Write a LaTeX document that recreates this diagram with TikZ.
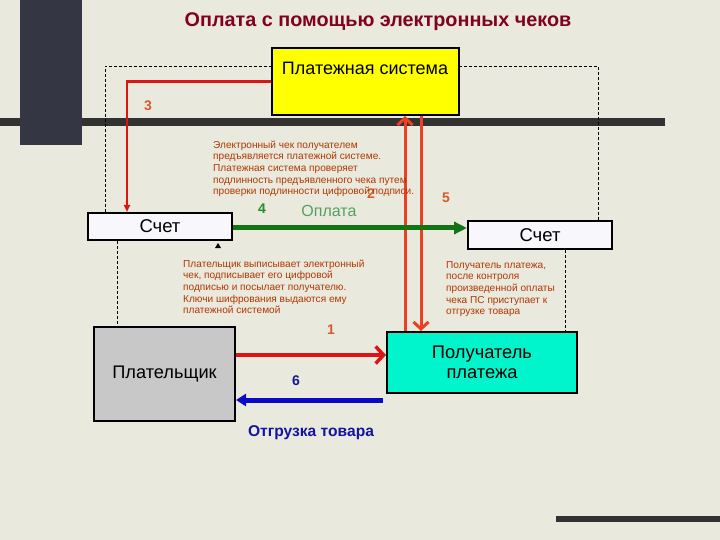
\documentclass[tikz,border=0pt]{standalone}
\usepackage{fontspec}
\setmainfont{Liberation Sans}
\usetikzlibrary{arrows.meta}
\definecolor{bgcol}{RGB}{233,233,222}
\definecolor{barcol}{RGB}{52,54,68}
\definecolor{linecol}{RGB}{50,50,50}
\definecolor{titlecol}{RGB}{130,0,32}
\definecolor{paracol}{RGB}{178,55,0}
\definecolor{numcol}{RGB}{212,92,40}
\definecolor{redA}{RGB}{222,20,20}
\definecolor{redB}{RGB}{236,64,36}
\definecolor{greenA}{RGB}{20,115,20}
\definecolor{greenB}{RGB}{40,140,40}
\definecolor{greenC}{RGB}{85,160,95}
\definecolor{blueA}{RGB}{10,10,200}
\definecolor{blueB}{RGB}{20,20,160}
\definecolor{yel}{RGB}{255,255,0}
\definecolor{turq}{RGB}{0,245,205}
\definecolor{grayb}{RGB}{200,200,200}
\definecolor{schet}{RGB}{248,248,252}
\tikzset{
  boxst/.style={draw=black, line width=2pt, inner sep=0pt},
  para/.style={anchor=north west, inner sep=0pt, align=left, text=paracol, font=\fontsize{10.1}{11.7}\selectfont},
  numst/.style={inner sep=0pt, font=\bfseries\fontsize{14}{14}\selectfont},
  dashline/.style={draw=black, line width=0.7pt, dash pattern=on 3pt off 2pt},
  openred/.style={line width=3pt, -{Straight Barb[length=7pt,width=15pt]}},
}
\begin{document}
\begin{tikzpicture}[x=1pt,y=-1pt]
\fill[bgcol] (0,0) rectangle (720,540);
\useasboundingbox (0,0) rectangle (720,540);
% decorative bars
\fill[linecol] (0,118) rectangle (665,126);
\fill[linecol] (556,516) rectangle (720,522);
\fill[barcol] (20,0) rectangle (82,145);
% title
\node[font=\bfseries\fontsize{19.8}{22}\selectfont, text=titlecol, inner sep=0pt] (title) at (378,22) {Оплата с помощью электронных чеков};
% nodes
\node[boxst, fill=yel, minimum width=187pt, minimum height=67pt] (ps) at (365.5,81.5) {};
\node[inner sep=0pt, font=\fontsize{18}{20}\selectfont] (pslabel) at (365,68) {Платежная система};
\node[boxst, fill=schet, minimum width=144pt, minimum height=27pt, font=\fontsize{18.5}{20}\selectfont] (sL) at (160,226.5) {Счет};
\node[boxst, fill=schet, minimum width=144pt, minimum height=28pt, font=\fontsize{18.5}{20}\selectfont] (sR) at (540,235) {Счет};
\node[boxst, fill=grayb, minimum width=141pt, minimum height=94pt, font=\fontsize{18.2}{20}\selectfont] (pay) at (164.5,374) {Плательщик};
\node[boxst, fill=turq, minimum width=190pt, minimum height=61pt, align=center, font=\fontsize{18.3}{21}\selectfont] (rec) at (482,362.5) {Получатель\\[-1pt]платежа};
% dashed frame
\coordinate (dTL) at (105,66);
\coordinate (dTR) at (598,66);
\draw[dashline] (sL.north -| dTL) -- (dTL) -- (dTR) -- (sR.north -| dTR);
\coordinate (dL) at (117,0);
\coordinate (dR) at (565,0);
\draw[dashline] (sL.south -| dL) -- (pay.north -| dL);
\draw[dashline] (sR.south -| dR) -- (rec.north -| dR);
% redraw yellow box over dashed line
\node[boxst, fill=yel, minimum width=187pt, minimum height=67pt] at (ps) {};
\node[inner sep=0pt, font=\fontsize{18}{20}\selectfont] at (pslabel) {Платежная система};
% connector 3
\coordinate (x127) at (127,0);
\draw[redA, line width=2.5pt, -{Triangle[length=7pt,width=6pt]}] (ps.west) -| (sL.north -| x127);
\node[numst, text=numcol] (n3) at (148,106) {3};
% vertical connectors 2 and 5
\coordinate (x405) at (405,0);
\coordinate (x421) at (421,0);
\draw[redB, openred] (rec.north -| x405) -- (ps.south -| x405);
\draw[redB, openred] (ps.south -| x421) -- (rec.north -| x421);
% payment arrow 4
\coordinate (y228) at (0,228);
\draw[greenA, line width=5pt, -{Triangle[length=13pt,width=12pt]}] (sL.east |- y228) -- (sR.west |- y228);
\node[numst, text=greenB] (n4) at (262,209) {4};
\node[inner sep=0pt, text=greenC, font=\fontsize{16}{17}\selectfont] (opl) at (329,211) {Оплата};
% arrow 1
\coordinate (y355) at (0,355);
\draw[redA, line width=3.5pt, -{Straight Barb[length=8pt,width=17pt]}] (pay.east |- y355) -- (rec.west |- y355);
\node[numst, text=numcol] (n1) at (331,330) {1};
% arrow 6
\coordinate (y400) at (0,400);
\coordinate (x383) at (383,0);
\draw[blueA, line width=5pt, -{Triangle[length=10pt,width=12pt]}] (x383 |- y400) -- (pay.east |- y400);
\node[numst, text=blueB] (n6) at (296,381) {6};
\node[inner sep=0pt, text=blueB, font=\bfseries\fontsize{15.6}{17}\selectfont] (otgr) at (311,433) {Отгрузка товара};
% numbers 2 and 5
\node[numst, text=numcol] (n2) at (371,194) {2};
\node[numst, text=numcol] (n5) at (446,198) {5};
% small mark
\fill[black] (215,248) -- (221,248) -- (218,243) -- cycle;
% paragraphs
\node[para] (p1) at (213,140.5) {Электронный чек получателем\\предъявляется платежной системе.\\Платежная система проверяет\\подлинность предъявленного чека путем\\проверки подлинности цифровой подписи.};
\node[para] (p2) at (183,259.5) {Плательщик выписывает электронный\\чек, подписывает его цифровой\\подписью и посылает получателю.\\Ключи шифрования выдаются ему\\платежной системой};
\node[para] (p3) at (446,261) {Получатель платежа,\\после контроля\\произведенной оплаты\\чека ПС приступает к\\отгрузке товара};
\end{tikzpicture}
\end{document}
